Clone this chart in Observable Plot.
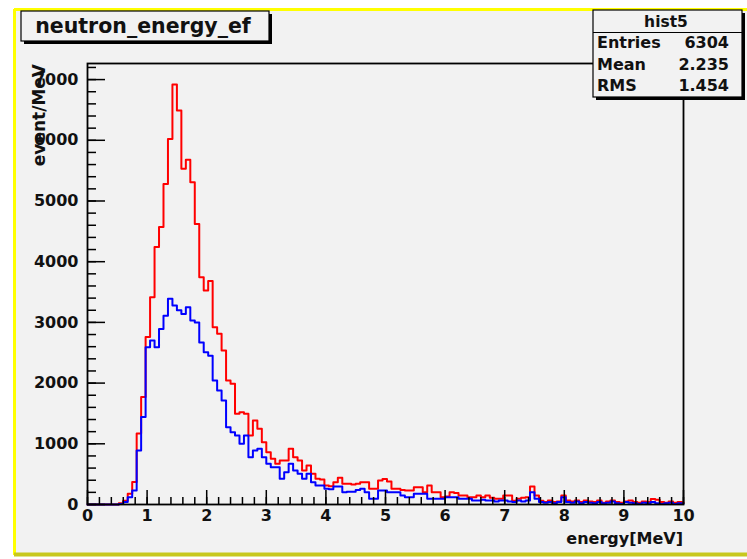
<!DOCTYPE html>
<html><head><meta charset="utf-8">
<script src="https://cdn.jsdelivr.net/npm/d3@7"></script>
<script src="https://cdn.jsdelivr.net/npm/@observablehq/plot@0.6"></script>
<style>
html,body{margin:0;padding:0;background:#ffffff;}
#chart{width:747px;height:559px;}
</style></head><body><div id="chart"></div>
<script>
// ---- data ----
const histTitle = "neutron_energy_ef";
const statsName = "hist5";
const statsLabels = ["Entries", "Mean", "RMS"];
const statsValues = ["6304", "2.235", "1.454"];
const xLabel = "energy[MeV]";
const yLabel = "event/MeV";
const binStart = 0, binWidth = 0.075;
const redCounts = [
  0,0,0,0,0,0,0,20,60,176,
  370,1170,1770,2760,3415,4240,4570,5280,6020,6920,
  6490,5530,5680,5310,4620,3745,3525,3680,2920,2812,
  2537,2043,1988,1494,1521,1494,1137,1384,1247,1027,
  862,752,670,725,725,917,780,725,560,642,
  505,423,410,313,300,368,439,340,340,330,
  340,368,368,258,258,395,420,380,258,258,
  240,231,231,285,285,203,313,203,203,121,
  130,203,190,148,148,121,121,148,121,148,
  110,93,93,148,148,60,93,110,120,297,
  148,60,40,66,40,50,148,66,50,66,
  40,66,50,40,66,30,50,66,40,30,
  50,66,40,30,50,40,90,80,40,30,
  50,30,40,30
];
const blueCounts = [
  0,0,0,0,0,0,0,10,40,120,
  230,890,1440,2590,2700,2590,2890,3110,3390,3280,
  3200,3140,3250,3030,3000,2670,2510,2450,2043,1880,
  1713,1274,1191,1137,1000,1137,780,890,917,780,
  670,615,615,423,532,670,560,505,423,505,
  368,313,313,258,250,295,295,203,210,210,
  240,258,200,93,93,231,231,203,203,203,
  150,121,121,176,176,176,93,93,93,93,
  121,121,121,93,93,93,66,66,80,66,
  66,50,66,66,50,40,66,50,66,203,
  93,40,30,40,20,40,121,40,30,50,
  20,40,30,20,40,20,30,50,20,10,
  40,30,20,10,30,20,40,20,10,20,
  30,10,20,10
];
const xTicks = [0,1,2,3,4,5,6,7,8,9,10];
const yTicks = [0,1000,2000,3000,4000,5000,6000,7000];
const xMinorStep = 0.2, yMinorStep = 200;
const xMax = 10, yMax = 7265;

// ---- build step rows ----
function steps(vals) {
  const rows = [];
  vals.forEach((v, i) => {
    const x = binStart + i * binWidth;
    if (x < xMax) rows.push({x, y: v});
  });
  rows.push({x: xMax, y: rows[rows.length - 1].y});
  return rows;
}
const redRows = steps(redCounts);
const blueRows = steps(blueCounts);
const xMinor = d3.range(0, xMax + 1e-9, xMinorStep);
const yMinor = d3.range(0, yMax, yMinorStep);

const W = 747, H = 559;
const mL = 87, mR = 64, mT = 63, mB = 55;
const plotW = W - mL - mR, plotH = H - mT - mB;
const font = "DejaVu Sans";
const bg = "#f2f2f2";

const svg = Plot.plot({
  width: W, height: H,
  marginLeft: mL, marginRight: mR, marginTop: mT, marginBottom: mB,
  style: {background: "transparent", fontFamily: font},
  x: {domain: [0, xMax]},
  y: {domain: [0, yMax]},
  marks: [
    Plot.line(redRows, {x: "x", y: "y", curve: "step-after", stroke: "#ff0000", strokeWidth: 2}),
    Plot.line(blueRows, {x: "x", y: "y", curve: "step-after", stroke: "#0000ff", strokeWidth: 2}),
    Plot.tickX(xMinor, {x: d => d, insetTop: plotH - 7, stroke: "black", strokeWidth: 1.5}),
    Plot.tickX(xTicks, {x: d => d, insetTop: plotH - 14, stroke: "black", strokeWidth: 1.5}),
    Plot.tickY(yMinor, {y: d => d, insetRight: plotW - 9, stroke: "black", strokeWidth: 1.5}),
    Plot.tickY(yTicks, {y: d => d, insetRight: plotW - 18, stroke: "black", strokeWidth: 1.5}),
    Plot.frame({stroke: "black", strokeWidth: 1.8}),
    Plot.axisX({ticks: xTicks, tickSize: 0, tickPadding: 5, label: null, tickFormat: d => String(d),
      fontSize: 16, fontWeight: "bold", fontFamily: font, fill: "#111"}),
    Plot.axisY({ticks: yTicks, tickSize: 0, tickPadding: 9, label: null, tickFormat: d => String(d),
      fontSize: 16, fontWeight: "bold", fontFamily: font, fill: "#111"})
  ]
});

const s = d3.select(svg);
// canvas background + highlight border
s.insert("rect", ":first-child").attr("x", 14).attr("y", 9).attr("width", W - 14).attr("height", 546).attr("fill", bg);
s.append("line").attr("x1", 14.5).attr("x2", 14.5).attr("y1", 9).attr("y2", 555).attr("stroke", "#ffff00").attr("stroke-width", 3);
s.append("line").attr("x1", 14).attr("x2", W).attr("y1", 9.5).attr("y2", 9.5).attr("stroke", "#ffff00").attr("stroke-width", 3);
s.append("line").attr("x1", 14).attr("x2", W).attr("y1", 554.5).attr("y2", 554.5).attr("stroke", "#c8c81e").attr("stroke-width", 4);

// axis titles
s.append("text").attr("x", 683).attr("y", 544).attr("text-anchor", "end")
  .attr("font-family", font).attr("font-weight", "bold").attr("font-size", 16).attr("fill", "#111").text(xLabel);
s.append("text").attr("transform", "translate(45,64) rotate(-90)").attr("text-anchor", "end")
  .attr("font-family", font).attr("font-weight", "bold").attr("font-size", 17).attr("fill", "#111").text(yLabel);

// title box
s.append("rect").attr("x", 24).attr("y", 14).attr("width", 248).attr("height", 30).attr("fill", "black");
s.append("rect").attr("x", 21).attr("y", 11).attr("width", 248).attr("height", 30).attr("fill", bg).attr("stroke", "black").attr("stroke-width", 1.2);
s.append("text").attr("x", 143).attr("y", 33).attr("text-anchor", "middle")
  .attr("font-family", font).attr("font-weight", "bold").attr("font-size", 20.5).attr("fill", "#111").text(histTitle);

// stats box
s.append("rect").attr("x", 596).attr("y", 13).attr("width", 149).attr("height", 87).attr("fill", "black");
s.append("rect").attr("x", 593).attr("y", 10).attr("width", 149).attr("height", 87).attr("fill", bg).attr("stroke", "black").attr("stroke-width", 1.2);
s.append("line").attr("x1", 593).attr("x2", 742).attr("y1", 32.5).attr("y2", 32.5).attr("stroke", "black").attr("stroke-width", 1.2);
s.append("text").attr("x", 666).attr("y", 27).attr("text-anchor", "middle")
  .attr("font-family", font).attr("font-weight", "bold").attr("font-size", 15.5).attr("fill", "#111").text(statsName);
const rowY = [48, 70, 91];
statsLabels.forEach((lab, i) => {
  s.append("text").attr("x", 597).attr("y", rowY[i]).attr("text-anchor", "start").attr("font-family", font).attr("font-weight", "bold")
    .attr("font-size", 16).attr("fill", "#111").text(lab);
  s.append("text").attr("x", 729).attr("y", rowY[i]).attr("text-anchor", "end").attr("font-family", font).attr("font-weight", "bold")
    .attr("font-size", 16).attr("fill", "#111").text(statsValues[i]);
});

document.getElementById("chart").appendChild(svg);
</script></body></html>
